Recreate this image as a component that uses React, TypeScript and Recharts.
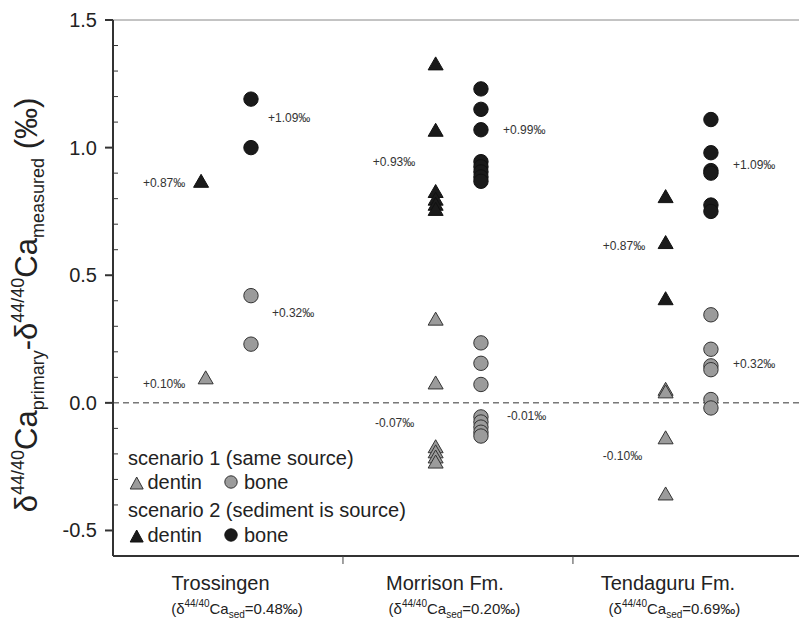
import React from 'react';
import { ScatterChart, Scatter, XAxis, YAxis, ReferenceLine, Customized } from 'recharts';

const categories = ['Trossingen', 'Morrison Fm.', 'Tendaguru Fm.'];
const sedValues = ['0.48', '0.20', '0.69'];
const dentin1X = [0.403, 1.403, 2.403];
const dentin2X = [0.383, 1.403, 2.403];
const boneX = [0.6, 1.6, 2.6];

// scenario 1 (same source) - grey
const s1Dentin = [
  [0.1],
  [0.33, 0.08, -0.17, -0.19, -0.21, -0.23],
  [0.055, 0.045, -0.135, -0.355],
];
const s1Bone = [
  [0.42, 0.23],
  [0.235, 0.155, 0.072, -0.055, -0.075, -0.095, -0.115, -0.13],
  [0.345, 0.21, 0.145, 0.13, 0.013, -0.02],
];
// scenario 2 (sediment is source) - black
const s2Dentin = [
  [0.87],
  [1.33, 1.07, 0.83, 0.8, 0.78, 0.76],
  [0.81, 0.63, 0.41],
];
const s2Bone = [
  [1.19, 1.0],
  [1.23, 1.15, 1.07, 0.945, 0.925, 0.905, 0.885, 0.868],
  [1.11, 0.98, 0.91, 0.9, 0.775, 0.75],
];

const annotLabels = ['+0.87‰', '+1.09‰', '+0.10‰', '+0.32‰', '+0.93‰', '+0.99‰', '-0.07‰', '-0.01‰', '+0.87‰', '+1.09‰', '-0.10‰', '+0.32‰'];
const annotX = [0.13, 0.674, 0.13, 0.691, 1.13, 1.696, 1.139, 1.713, 2.13, 2.696, 2.13, 2.696];
const annotY = [0.862, 1.118, 0.074, 0.354, 0.942, 1.068, -0.078, -0.05, 0.613, 0.93, -0.21, 0.154];

const yTicks = [-0.5, -0.4, -0.3, -0.2, -0.1, 0, 0.1, 0.2, 0.3, 0.4, 0.5, 0.6, 0.7, 0.8, 0.9, 1.0, 1.1, 1.2, 1.3, 1.4, 1.5];
const xTicks = [0.5, 1, 1.5, 2, 2.5];

const W = 799;
const H = 622;
const AX = 113;
const PLOT_TOP = 20;
const PLOT_BOTTOM = 556;
const FONT = '"Liberation Sans", Arial, Helvetica, sans-serif';
const GREY = '#9b9b9b';
const BLACK = '#1a1a1a';
const TITLE_SHIFT = [-7.5, -13, -20];
const SUB_SHIFT = [9, -3.5, -13.5];

const build = (groups: number[][], xs: number[]) =>
  groups.flatMap((vals, i) => vals.map((v) => ({ x: xs[i], y: v })));

const s1DentinData = build(s1Dentin, dentin1X);
const s1BoneData = build(s1Bone, boneX);
const s2DentinData = build(s2Dentin, dentin2X);
const s2BoneData = build(s2Bone, boneX);
const annotData = annotLabels.map((t, i) => ({ x: annotX[i], y: annotY[i], t }));

const triPath = (cx: number, cy: number, w: number, h: number) =>
  `M${cx - w / 2},${cy + h / 2} L${cx + w / 2},${cy + h / 2} L${cx},${cy - h / 2} Z`;

const makeTri = (fill: string, stroke: string) => (p: any) => (
  <path d={triPath(p.cx, p.cy, 15, 13)} fill={fill} stroke={stroke} strokeWidth={1} />
);
const makeCircle = (fill: string, stroke: string) => (p: any) => (
  <circle cx={p.cx} cy={p.cy} r={7.2} fill={fill} stroke={stroke} strokeWidth={1} />
);
const annotShape = (p: any) => (
  <text x={p.cx} y={p.cy + 4} fontSize={12} fill="#333" fontFamily={FONT} textAnchor="start">
    {p.payload.t}
  </text>
);

const YTick = (props: any) => {
  const { y, payload } = props;
  const v = payload.value as number;
  const major = Math.abs(v * 2 - Math.round(v * 2)) < 1e-6;
  if (major) {
    return (
      <g>
        <line x1={AX - 8} y1={y} x2={AX} y2={y} stroke="#333" strokeWidth={2} />
        <text x={AX - 16} y={y + 7} textAnchor="end" fontSize={20} fill="#222" fontFamily={FONT}>
          {v.toFixed(1)}
        </text>
      </g>
    );
  }
  return <line x1={AX} y1={y} x2={AX + 5} y2={y} stroke="#333" strokeWidth={1} />;
};

const XTick = (props: any) => {
  const { x, payload } = props;
  const v = payload.value as number;
  if (Math.abs(v - Math.round(v)) < 1e-6) {
    return <line x1={x} y1={PLOT_BOTTOM} x2={x} y2={PLOT_BOTTOM + 8} stroke="#444" strokeWidth={1} />;
  }
  const i = Math.floor(v);
  return (
    <g fontFamily={FONT} fill="#222">
      <text x={x + TITLE_SHIFT[i]} y={PLOT_BOTTOM + 34} textAnchor="middle" fontSize={20}>
        {categories[i]}
      </text>
      <text x={x + SUB_SHIFT[i]} y={PLOT_BOTTOM + 58} textAnchor="middle" fontSize={15}>
        (δ
        <tspan dy={-7} fontSize={10}>44/40</tspan>
        <tspan dy={7} fontSize={15}>Ca</tspan>
        <tspan dy={4} fontSize={10}>sed</tspan>
        <tspan dy={-4} fontSize={15}>={sedValues[i]}‰)</tspan>
      </text>
    </g>
  );
};

const Extras = () => (
  <g fontFamily={FONT} fill="#222">
    <text transform="translate(37,305) rotate(-90)" textAnchor="middle" fontSize={31}>
      δ<tspan dy={-13} fontSize={18}>44/40</tspan>
      <tspan dy={13} fontSize={31}>Ca</tspan>
      <tspan dy={7} fontSize={18}>primary</tspan>
      <tspan dy={-7} fontSize={31}>-δ</tspan>
      <tspan dy={-13} fontSize={18}>44/40</tspan>
      <tspan dy={13} fontSize={31}>Ca</tspan>
      <tspan dy={7} fontSize={18}>measured</tspan>
      <tspan dy={-7} fontSize={31}> (‰)</tspan>
    </text>
    <text x={128} y={465} fontSize={20}>scenario 1 (same source)</text>
    <path d={triPath(136.7, 483, 13, 12)} fill={GREY} stroke="#333" strokeWidth={1} />
    <text x={147.5} y={489} fontSize={20}>dentin</text>
    <circle cx={231} cy={482} r={6.2} fill={GREY} stroke="#333" strokeWidth={1} />
    <text x={244} y={489} fontSize={20}>bone</text>
    <text x={128} y={517} fontSize={20}>scenario 2 (sediment is source)</text>
    <path d={triPath(136.7, 536, 13, 12)} fill={BLACK} stroke="#111" strokeWidth={1} />
    <text x={147.5} y={542} fontSize={20}>dentin</text>
    <circle cx={231} cy={535} r={6.2} fill={BLACK} stroke="#111" strokeWidth={1} />
    <text x={244} y={542} fontSize={20}>bone</text>
  </g>
);

export default function App() {
  return (
    <div style={{ position: 'absolute', left: 0, top: 0, width: W, height: H, overflow: 'hidden', background: '#fff' }}>
      <ScatterChart width={W} height={H} margin={{ top: PLOT_TOP, right: 0, bottom: 0, left: 0 }}>
        <XAxis
          type="number"
          dataKey="x"
          domain={[0, 2.983]}
          ticks={xTicks}
          interval={0}
          height={H - PLOT_BOTTOM}
          tickLine={false}
          tickSize={0}
          axisLine={{ stroke: '#333', strokeWidth: 2 }}
          tick={<XTick />}
        />
        <YAxis
          type="number"
          dataKey="y"
          domain={[-0.6, 1.5]}
          ticks={yTicks}
          interval={0}
          width={AX}
          tickLine={false}
          axisLine={{ stroke: '#333', strokeWidth: 2 }}
          tick={<YTick />}
        />
        <ReferenceLine y={1.5} stroke="#888" strokeWidth={1} />
        <ReferenceLine y={0} stroke="#333" strokeWidth={1} strokeDasharray="6 4" />
        <Scatter data={s1DentinData} shape={makeTri(GREY, '#333')} isAnimationActive={false} />
        <Scatter data={s1BoneData} shape={makeCircle(GREY, '#333')} isAnimationActive={false} />
        <Scatter data={s2DentinData} shape={makeTri(BLACK, '#111')} isAnimationActive={false} />
        <Scatter data={s2BoneData} shape={makeCircle(BLACK, '#111')} isAnimationActive={false} />
        <Scatter data={annotData} shape={annotShape} isAnimationActive={false} />
        <Customized component={Extras} />
      </ScatterChart>
    </div>
  );
}
